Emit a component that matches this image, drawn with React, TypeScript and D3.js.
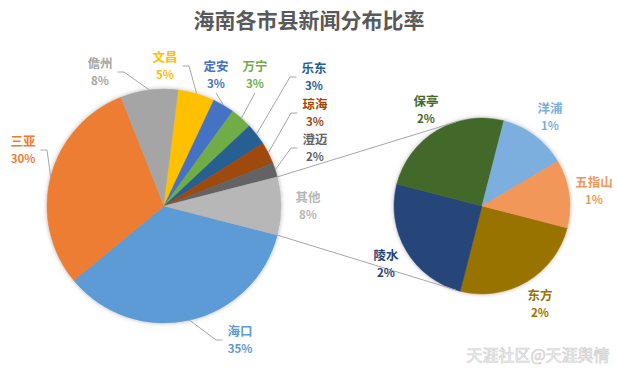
import * as d3 from 'd3';
import { useEffect, useRef } from 'react';

// main pie (clockwise from the "other" slice)
const mainNames = ['海口', '三亚', '儋州', '文昌', '定安', '万宁', '乐东', '琼海', '澄迈'];
const mainValues = [35, 30, 8, 5, 3, 3, 3, 3, 2];
// second pie: what "其他" is made of
const subNames = ['东方', '陵水', '保亭', '洋浦', '五指山'];
const subValues = [2, 2, 2, 1, 1];
const otherName = '其他';

const palette = ['#5B9BD5', '#ED7D31', '#A5A5A5', '#FFC000', '#4472C4', '#70AD47', '#255E91', '#9E480E',
    '#636363', '#997300', '#264478', '#43682B', '#7CAFDD', '#F1975A'];
const otherColor = '#B7B7B7';

// label block centre, offset from its pie centre, and where the leader line joins it
const labelAt: Record<string, [number, number, string]> = {
    '海口': [76, 134, 'left'],
    '三亚': [-141, -56, 'right'],
    '儋州': [-64, -134, 'right'],
    '文昌': [1, -140, 'right'],
    '定安': [52, -131, 'bottom'],
    '万宁': [91, -131, 'bottom'],
    '乐东': [150, -129, 'left'],
    '琼海': [151, -93, 'left'],
    '澄迈': [151, -58, 'left'],
    '其他': [144, 0, ''],
    '保亭': [-56, -96, ''],
    '洋浦': [68, -89, ''],
    '五指山': [112, -15, ''],
    '东方': [58, 98, ''],
    '陵水': [-96, 58, ''],
};

const W = 618, H = 373;
const FONT = '"Noto Sans CJK SC", "Noto Sans", sans-serif';

const App = () => {
    const svgRef = useRef<SVGSVGElement>(null);

    useEffect(() => {
        const svg = d3.select(svgRef.current);
        svg.selectAll('*').remove();

        const mainC = [164, 206], mainR = 117;
        const subC = [482, 206], subR = 88;

        const otherValue = d3.sum(subValues);
        const total = d3.sum(mainValues) + otherValue;
        const start = Math.PI / 2 + (otherValue / total) * Math.PI;

        const mainData = mainNames.map((n, i) => ({ name: n, value: mainValues[i], color: palette[i] }))
            .concat([{ name: otherName, value: otherValue, color: otherColor }]);
        const subData = subNames.map((n, i) => ({ name: n, value: subValues[i], color: palette[mainNames.length + i] }));

        const pie = d3.pie<any>().sort(null).value(d => d.value).startAngle(start).endAngle(start + 2 * Math.PI);
        const mainSlices = pie(mainData);
        const subSlices = pie(subData);

        const defs = svg.append('defs');
        const f = defs.append('filter').attr('id', 'glow').attr('x', '-20%').attr('y', '-20%').attr('width', '140%').attr('height', '140%');
        f.append('feDropShadow').attr('dx', 0).attr('dy', 0).attr('stdDeviation', 2.2)
            .attr('flood-color', '#000').attr('flood-opacity', 0.3);

        svg.append('text')
            .attr('x', 309).attr('y', 28)
            .attr('text-anchor', 'middle')
            .attr('font-family', FONT).attr('font-weight', 'bold').attr('font-size', 21)
            .attr('fill', '#595959')
            .text('海南各市县新闻分布比率');

        const rimPoint = (c: number[], r: number, a: number) => [c[0] + r * Math.sin(a), c[1] - r * Math.cos(a)];

        // connector lines: edges of "其他" tangent to the second pie
        const other = mainSlices[mainSlices.length - 1];
        const tangent = (p: number[], sign: number) => {
            const dx = p[0] - subC[0], dy = p[1] - subC[1];
            const d = Math.hypot(dx, dy);
            const t = Math.atan2(dy, dx) + sign * Math.acos(subR / d);
            return [subC[0] + subR * Math.cos(t), subC[1] + subR * Math.sin(t)];
        };
        const pTop = rimPoint(mainC, mainR, other.startAngle);
        const pBot = rimPoint(mainC, mainR, other.endAngle);

        const drawPie = (slices: any[], c: number[], r: number) => {
            const arc = d3.arc<any>().innerRadius(0).outerRadius(r);
            const g = svg.append('g').attr('transform', `translate(${c[0]},${c[1]})`).attr('filter', 'url(#glow)');
            g.selectAll('path')
                .data(slices)
                .enter()
                .append('path')
                .attr('d', arc)
                .attr('fill', d => d.data.color)
                .attr('stroke', d => d.data.color)
                .attr('stroke-width', 0.5);
        };
        drawPie(mainSlices, mainC, mainR);
        drawPie(subSlices, subC, subR);

        const lines = svg.append('g').attr('stroke', '#A6A6A6').attr('stroke-width', 1).attr('fill', 'none');
        [[pTop, tangent(pTop, 1)], [pBot, tangent(pBot, -1)]].forEach(seg => {
            lines.append('line')
                .attr('x1', seg[0][0]).attr('y1', seg[0][1])
                .attr('x2', seg[1][0]).attr('y2', seg[1][1]);
        });

        const drawLabels = (slices: any[], c: number[], r: number) => {
            const rim = d3.arc<any>().innerRadius(r).outerRadius(r);
            slices.forEach(s => {
                const [ox, oy, mode] = labelAt[s.data.name];
                const x = c[0] + ox, y = c[1] + oy;
                const pct = Math.round((s.data.value / total) * 100) + '%';
                const t = svg.append('g')
                    .attr('font-family', FONT).attr('font-weight', 'bold')
                    .attr('fill', s.data.color).attr('text-anchor', 'middle');
                const nameText = t.append('text').attr('x', x).attr('y', y - 3.8).attr('font-size', 12.5).text(s.data.name);
                t.append('text').attr('x', x).attr('y', y + 13.2).attr('font-size', 11.5).text(pct);

                if (!mode) return;
                const cen = rim.centroid(s);
                const p = [c[0] + cen[0], c[1] + cen[1]];
                const hw = (nameText.node() as SVGTextElement).getComputedTextLength() / 2;
                let pts: number[][];
                if (mode === 'bottom') {
                    pts = [p, [x, y + 18]];
                } else {
                    const side = mode === 'right' ? 1 : -1;
                    const ax = x + side * (hw + 5);
                    pts = [p, [ax + side * 6.5, y], [ax, y]];
                }
                lines.append('path').attr('d', d3.line()(pts as [number, number][]));
            });
        };
        drawLabels(mainSlices, mainC, mainR);
        drawLabels(subSlices, subC, subR);

        svg.append('text')
            .attr('x', 538).attr('y', 361)
            .attr('text-anchor', 'middle')
            .attr('font-family', FONT).attr('font-size', 16)
            .attr('fill', '#ffffff').attr('stroke', '#cfcfcf').attr('stroke-width', 0.7)
            .text('天涯社区@天涯舆情');

        return () => {
            svg.selectAll('*').remove();
        };
    }, []);

    return (
        <svg ref={svgRef} width={W} height={H}
            style={{ position: 'absolute', left: 0, top: 0, background: '#fff' }} />
    );
};

export default App;
